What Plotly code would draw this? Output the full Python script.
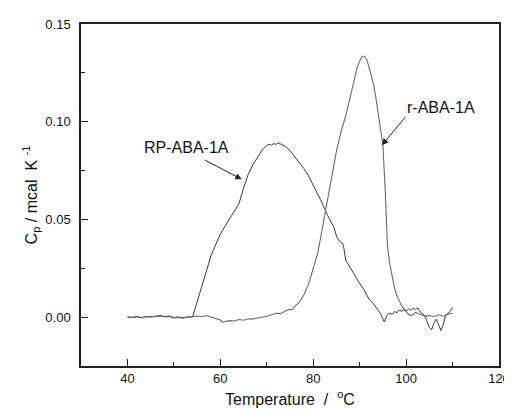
import plotly.graph_objects as go

# RP-ABA-1A (broad peak)
rp_t = [40, 41, 42, 43, 44, 45, 46, 47, 48, 49, 50, 51, 52, 53, 54,
        55, 56, 57, 58, 59, 60, 61, 62, 63, 64, 65, 66, 67, 68, 69, 70,
        70.5, 71, 71.5, 72, 72.5, 73, 73.5, 74, 75, 76, 77, 78, 79, 80,
        81, 82, 83, 84, 84.5, 85, 85.5, 86, 86.5, 87, 87.5, 88, 89, 90,
        91, 92, 93, 94, 94.5, 95, 95.3, 95.8, 96.3, 97, 97.5, 98, 98.5,
        99, 99.5, 100, 100.5, 101, 101.5, 102, 102.5, 103, 103.5, 104,
        104.5, 105, 105.5, 106, 106.5, 107, 107.5, 108, 108.5, 109, 109.5, 110]
rp_cp = [0.0000, -0.0003, 0.0002, -0.0004, 0.0003, 0.0001, 0.0005, 0.0008, 0.0003, 0.0006,
         -0.0002, 0.0001, -0.0003, 0.0002, 0.0000,
         0.0075, 0.0155, 0.0235, 0.0315, 0.0375, 0.0425, 0.0465, 0.0505, 0.0540, 0.0580,
         0.0660, 0.0730, 0.0780, 0.0820, 0.0855, 0.0878,
         0.0885, 0.0880, 0.0888, 0.0884, 0.0892, 0.0886, 0.0880, 0.0874, 0.0852, 0.0822,
         0.0792, 0.0760, 0.0722, 0.0675,
         0.0625, 0.0580, 0.0525, 0.0480, 0.0458, 0.0415, 0.0392, 0.0386, 0.0368, 0.0292,
         0.0272, 0.0250, 0.0212, 0.0172,
         0.0138, 0.0092, 0.0068, 0.0032, 0.0018, -0.0008, -0.0025, 0.0006, 0.0020, 0.0014,
         0.0029, 0.0022, 0.0036,
         0.0030, 0.0037, 0.0031, 0.0042, 0.0035, 0.0046, 0.0039, 0.0048, 0.0028, 0.0016,
         0.0008, -0.0022, -0.0052, -0.0064, -0.0030, -0.0010, -0.0042, -0.0068, -0.0038,
         0.0008, 0.0020, 0.0030, 0.0050]

# r-ABA-1A (sharp peak)
r_t = [40, 41, 42, 43, 44, 45, 46, 47, 48, 49, 50, 51, 52, 53, 54, 55, 56, 57, 58,
       59, 60, 60.5, 61, 62, 63, 64, 65, 66, 67, 68, 69, 70, 71, 72, 73, 74, 75,
       75.5, 76, 77, 78, 79, 80, 81, 82, 83, 84, 85, 86, 87, 88, 89, 89.5, 90,
       90.5, 91, 91.5, 92, 92.5, 93, 93.5, 94, 94.5, 95, 95.5, 96, 96.5, 97, 97.5,
       98, 98.5, 99, 99.5, 100, 100.5, 101, 101.5, 102, 102.5, 103, 104, 105,
       106, 107, 108, 109, 110]
r_cp = [0.0002, -0.0001, 0.0004, -0.0002, 0.0001, 0.0004, 0.0002, 0.0006, 0.0001, 0.0004,
        -0.0004, -0.0001, -0.0005, 0.0001, 0.0003, 0.0006, 0.0002, 0.0008, 0.0001,
        -0.0006, -0.0015, -0.0027, -0.0022, -0.0018, -0.0020, -0.0012, -0.0016, -0.0008,
        -0.0010, -0.0004, 0.0000, 0.0005, 0.0012, 0.0020, 0.0018, 0.0032, 0.0040,
        0.0038, 0.0055, 0.0075, 0.0115, 0.0170, 0.0250, 0.0330, 0.0460, 0.0590, 0.0730,
        0.0850, 0.0950, 0.1030, 0.1130, 0.1230, 0.1280, 0.1310,
        0.1335, 0.1335, 0.1320, 0.1280, 0.1240, 0.1190, 0.1120, 0.1040, 0.0960, 0.0880,
        0.0650, 0.0360, 0.0270, 0.0200, 0.0150,
        0.0110, 0.0080, 0.0060, 0.0045, 0.0030, 0.0015, 0.0008, 0.0012, 0.0024, 0.0020,
        0.0015, 0.0005, 0.0008, 0.0002, 0.0012, 0.0005, 0.0015, 0.0020]

x_ticks = [40, 60, 80, 100, 120]
y_ticks = [0.00, 0.05, 0.10, 0.15]
y_tick_text = ["0.00", "0.05", "0.10", "0.15"]

fig = go.Figure()
fig.add_trace(go.Scatter(x=rp_t, y=rp_cp, mode="lines", name="RP-ABA-1A",
                         line=dict(color="#3a3a3a", width=1)))
fig.add_trace(go.Scatter(x=r_t, y=r_cp, mode="lines", name="r-ABA-1A",
                         line=dict(color="#6a6a6a", width=1.1)))

font_family = "Liberation Sans, Arial, sans-serif"

fig.add_annotation(x=64.6, y=0.0705, ax=-38, ay=-20, text="", showarrow=True,
                   arrowhead=2, arrowsize=1.3, arrowwidth=1, arrowcolor="#222")
fig.add_annotation(x=94.8, y=0.088, ax=25, ay=-30, text="", showarrow=True,
                   arrowhead=2, arrowsize=1.3, arrowwidth=1, arrowcolor="#222")
fig.add_annotation(x=52.7, y=0.087, text="RP-ABA-1A", showarrow=False,
                   font=dict(size=16, color="#111", family=font_family))
fig.add_annotation(x=107.5, y=0.1075, text="r-ABA-1A", showarrow=False,
                   font=dict(size=16, color="#111", family=font_family))

fig.update_layout(
    width=504, height=408,
    margin=dict(l=73, r=13, t=16, b=50, autoexpand=False),
    paper_bgcolor="white", plot_bgcolor="white",
    showlegend=False,
    font=dict(family=font_family, color="#111", size=13),
    xaxis=dict(range=[30, 120], tickvals=x_ticks, ticks="inside", ticklen=7,
               tickwidth=1.2, tickcolor="#222", automargin=False,
               minor=dict(dtick=10, tick0=30, ticks="inside", ticklen=4, tickcolor="#222"),
               showline=True, linecolor="#222", linewidth=1.5, mirror=True,
               showgrid=False, zeroline=False,
               tickfont=dict(size=13),
               title=dict(text="Temperature  /  <sup>o</sup>C", font=dict(size=16),
                          standoff=8)),
    yaxis=dict(range=[-0.025, 0.15], tickvals=y_ticks, ticktext=y_tick_text,
               ticks="inside", ticklen=7, tickwidth=1.2, tickcolor="#222",
               automargin=False,
               minor=dict(dtick=0.025, tick0=-0.025, ticks="inside", ticklen=4, tickcolor="#222"),
               showline=True, linecolor="#222", linewidth=1.5, mirror=True,
               showgrid=False, zeroline=False,
               ticklabelstandoff=6,
               tickfont=dict(size=13),
               title=dict(text="C<sub>p</sub> / mcal  K <sup>-1</sup>", font=dict(size=16),
                          standoff=4)),
)

fig.write_html("out.html")
